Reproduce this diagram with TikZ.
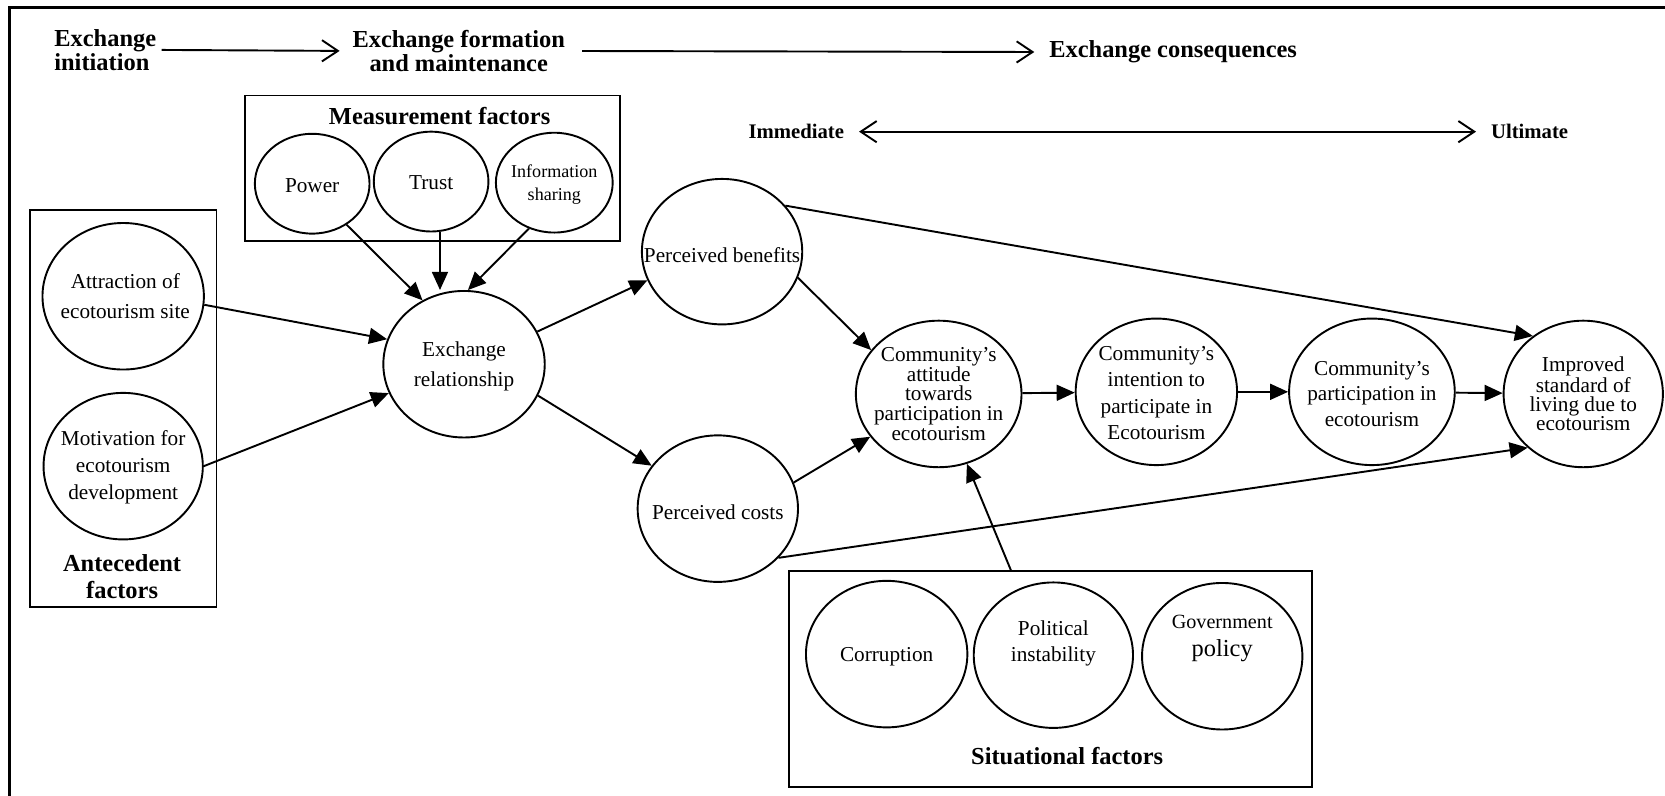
\documentclass[tikz,border=0pt]{standalone}
\usepackage{fontspec}
\setmainfont{Liberation Serif}
\usetikzlibrary{arrows.meta,shapes.geometric}

\begin{document}
\begin{tikzpicture}[x=1pt,y=-1pt,
  ell/.style={draw, ellipse, line width=1.8pt, inner sep=0pt},
  box/.style={draw, rectangle, line width=1.8pt, inner sep=0pt, anchor=north west},
  body/.style={align=center, inner sep=0pt, font=\fontsize{20}{#1}\selectfont},
  head/.style={align=center, inner sep=0pt, font=\fontsize{23}{#1}\selectfont\bfseries},
  arr/.style={line width=1.8pt, -{Triangle[length=17pt,width=15pt]}},
  openarr/.style={line width=1.8pt, -{Straight Barb[length=15pt,width=20pt]}},
  bothopen/.style={line width=1.8pt, {Straight Barb[length=15pt,width=20pt]}-{Straight Barb[length=15pt,width=20pt]}},
]
\useasboundingbox (0,0) rectangle (1568,749);

% open outer frame
\draw[line width=2.4pt] (9,760) -- (9,7) -- (1580,7);

% stage headings along the top
\node[head=23, anchor=west, align=left] (init) at (51,47) {Exchange\\initiation};
\node[head=23] (form) at (432,48) {Exchange formation\\and maintenance};
\node[head=23, anchor=west] (cons) at (988,49) {Exchange consequences};
\draw[openarr, shorten <=5pt, shorten >=12pt] (init.east) -- (form.west);
\draw[openarr, shorten <=16pt, shorten >=14pt] (form.east) -- (cons.west);

% time scale of consequences
\node[inner sep=0pt, anchor=east, font=\fontsize{19.5}{20}\selectfont\bfseries] (immed) at (795,124) {Immediate};
\node[inner sep=0pt, anchor=west, font=\fontsize{19.5}{20}\selectfont\bfseries] (ultim) at (1404,124) {Ultimate};
\draw[bothopen, shorten <=14pt, shorten >=14pt] (immed.east) -- (ultim.west);

% factor groups
\node[box, minimum width=353pt, minimum height=137pt] (mbox) at (230,89) {};
\node[head=23] (mtitle) at (414,109) {Measurement factors};
\node[box, minimum width=176pt, minimum height=374pt] (abox) at (27,197) {};
\node[head=26] (atitle) at (115,543) {Antecedent\\factors};
\node[box, minimum width=493pt, minimum height=203pt] (sbox) at (742,537) {};
\node[head=23] (stitle) at (1005,712) {Situational factors};

% constructs
\node[ell, minimum width=152pt, minimum height=138pt] (attr) at (116,279) {};
\node[ell, minimum width=150pt, minimum height=138pt] (motiv) at (116,439) {};
\node[ell, minimum width=152pt, minimum height=138pt] (exch) at (437,343) {};
\node[ell, minimum width=108pt, minimum height=94pt] (power) at (294,173) {};
\node[ell, minimum width=108pt, minimum height=94pt] (trust) at (406,171) {};
\node[ell, minimum width=110pt, minimum height=94pt] (info) at (522,172) {};
\node[ell, minimum width=151pt, minimum height=137pt] (benef) at (680,237) {};
\node[ell, minimum width=151pt, minimum height=138pt] (costs) at (676,479) {};
\node[ell, minimum width=156pt, minimum height=138pt] (attit) at (884,371) {};
\node[ell, minimum width=152pt, minimum height=138pt] (inten) at (1089,369) {};
\node[ell, minimum width=156pt, minimum height=138pt] (partic) at (1292,369) {};
\node[ell, minimum width=150pt, minimum height=138pt] (improv) at (1491,371) {};
\node[ell, minimum width=152pt, minimum height=138pt] (corrup) at (835,616) {};
\node[ell, minimum width=150pt, minimum height=137pt] (polit) at (992,617) {};
\node[ell, minimum width=151pt, minimum height=138pt] (govern) at (1151,618) {};

% construct labels
\node[body=28] (attrT) at (118,279) {Attraction of\\ecotourism site};
\node[body=25.5] (motivT) at (116,440) {Motivation for\\ecotourism\\development};
\node[body=28] (exchT) at (437,345) {Exchange\\relationship};
\node[body=20] (powerT) at (294,175) {Power};
\node[body=20] (trustT) at (406,172) {Trust};
\node[align=center, inner sep=0pt, font=\fontsize{17}{22}\selectfont] (infoT) at (522,174) {Information\\sharing};
\node[body=20] (benefT) at (680,240) {Perceived benefits};
\node[body=20] (costsT) at (676,482) {Perceived costs};
\node[body=18.5] (attitT) at (884,371) {Community’s\\attitude\\towards\\participation in\\ecotourism};
\node[body=25] (intenT) at (1089,370) {Community’s\\intention to\\participate in\\Ecotourism};
\node[body=24] (particT) at (1292,371) {Community’s\\participation in\\ecotourism};
\node[body=18] (improvT) at (1491,371) {Improved\\standard of\\living due to\\ecotourism};
\node[body=20] (corrupT) at (835,618) {Corruption};
\node[body=25] (politT) at (992,606) {Political\\instability};
\node[align=center, inner sep=0pt, font=\fontsize{19}{26}\selectfont] (governT) at (1151,601) {Government\\{\fontsize{23}{26}\selectfont policy}};

% relationships
\draw[arr] (power.-50) -- (exch.123);
\draw[arr] (trust.-80) -- (trust.-80 |- exch.north);
\draw[arr] (info.-119) -- (exch.87);
\draw[arr] (attr.-6) -- (exch.162);
\draw[arr] (motiv.0) -- (exch.201);
\draw[arr] (exch.24) -- (benef.201);
\draw[arr] (exch.-23) -- (costs.147);
\draw[arr] (benef.-19) -- (attit.147);
\draw[arr] (costs.19) -- (attit.212);
\draw[arr] (attit) -- (inten);
\draw[arr] (inten) -- (partic);
\draw[arr] (partic) -- (improv);
\draw[arr] (benef.36) -- (improv.131);
\draw[arr] (costs.-39) -- (improv.-136);
\coordinate (sitin) at (952,537);
\draw[arr] (sitin) -- (attit.-68);
\end{tikzpicture}
\end{document}
